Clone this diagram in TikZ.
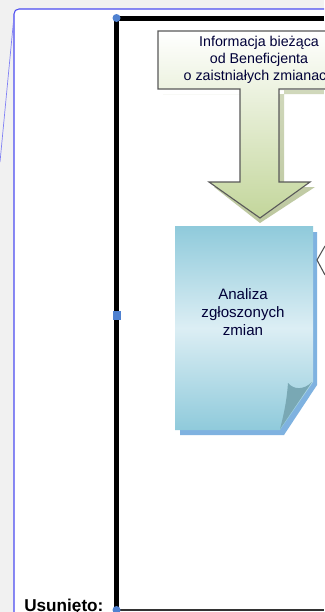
\documentclass[tikz,border=0pt]{standalone}
\usepackage{fontspec}
\setmainfont{Liberation Sans}
\definecolor{pagebg}{HTML}{F1F1F1}
\definecolor{bluehandle}{HTML}{4F81D0}
\definecolor{revline}{HTML}{4A4AF0}
\definecolor{arrowgreen}{HTML}{C3D69B}
\definecolor{arrowshadow}{HTML}{BCC79E}
\definecolor{notetop}{HTML}{8FCADB}
\definecolor{notemid}{HTML}{DCEEF4}
\definecolor{noteshadow}{HTML}{7FB2E0}
\definecolor{curl}{HTML}{79A8B4}
\tikzset{
  labeltext/.style={text=black!78!blue,align=center,inner sep=0pt},
  handle/.style={fill=bluehandle}
}
\begin{document}
\begin{tikzpicture}[x=0.01in,y=-0.01in]
\useasboundingbox (0,0) rectangle (324,612);
\fill[pagebg] (0,0) rectangle (324,612);
% page
\fill[white] (14,612) -- (14,14) .. controls (14,11) and (16,9) .. (19,9) -- (324,9) -- (324,612) -- cycle;
\draw[revline,line width=0.75pt] (14,612) -- (14,14) .. controls (14,11) and (16,9) .. (19,9) -- (324,9);
\draw[revline!70!white,line width=0.5pt] (14,16) -- (0,162);
% frame
\draw[black!80,line width=1.3pt] (116,610) -- (324,610);
\draw[black,line width=3.3pt] (324,18.3) -- (116.5,18.3) -- (116.5,612);
% shadow of arrow
\path[top color=white!30!arrowshadow,bottom color=arrowshadow]
 (163,94) -- (324,94) -- (324,90) -- (279,90) -- (284,90) -- (284,187) -- (315,187) -- (260,223) -- (214,187) -- (245,187) -- (245,94) -- cycle;
% arrow
\path[draw=black!65,line width=0.8pt,top color=white,bottom color=arrowgreen]
 (158,31) -- (330,31) -- (330,89) -- (279,89) -- (279,182) -- (310,182) -- (260,218) -- (209,182) -- (240,182) -- (240,89) -- (158,89) -- cycle;
\node[labeltext,font=\fontsize{10.3pt}{12.2pt}\selectfont] (info) at (259,59.5) {Informacja bieżąca\\od Beneficjenta\\o zaistniałych zmianach};
% note
\fill[noteshadow] (180,232) -- (317,232) -- (317,385) -- (284,435) -- (180,435) -- cycle;
\shade[top color=notetop,bottom color=notetop,middle color=notemid]
 (175,226) -- (313,226) -- (313,382) -- (280,430) -- (175,430) -- cycle;
\fill[curl] (280,429) .. controls (285,410) and (287,397) .. (288,383) .. controls (294,390) and (304,390) .. (312,382) -- cycle;
\node[labeltext,font=\fontsize{10.9pt}{13pt}\selectfont] (note) at (243,312) {Analiza\\zgłoszonych\\zmian};
% connector tip
\coordinate (tipa) at (325,246);
\coordinate (tipb) at (325,275);
\coordinate (tip) at (317,260);
\draw[black!70,line width=0.75pt] (tipa) -- (tip) -- (tipb);
% handles
\fill[handle] (116.5,18) circle (4);
\fill[handle] (112.7,311) rectangle (121,320);
\fill[handle] (116.5,610) circle (4);
\node[anchor=base west,inner sep=0pt,font=\fontsize{12.4pt}{14pt}\selectfont\bfseries] (usun) at (24,611) {Usunięto:};
\end{tikzpicture}
\end{document}
